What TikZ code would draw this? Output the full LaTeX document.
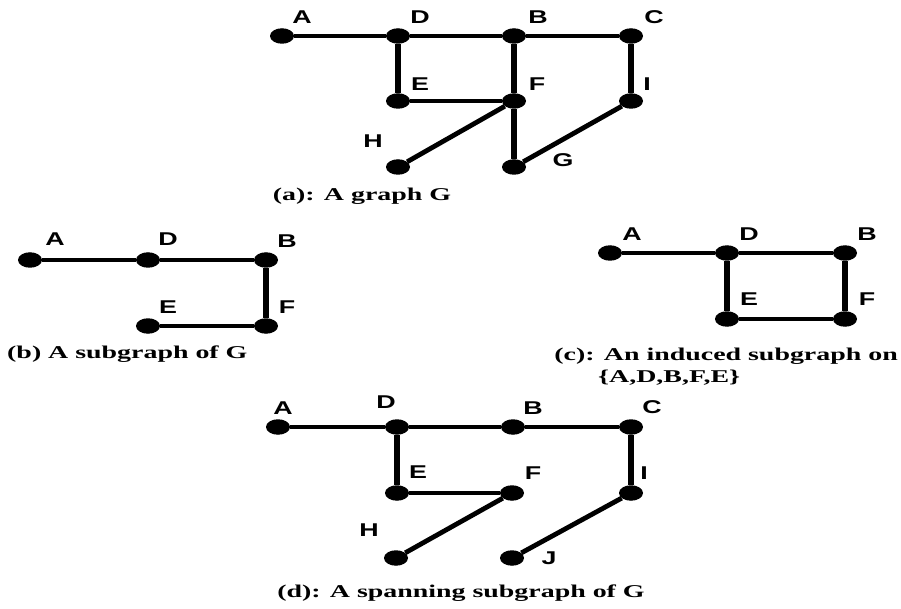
\documentclass[tikz,border=0pt]{standalone}
\usepackage{fontspec}
\usetikzlibrary{shapes.geometric}
\newfontfamily\capfont[FakeStretch=1.55]{Liberation Serif}
\newfontfamily\lblfont[FakeStretch=1.45]{Liberation Sans}
\begin{document}
\begin{tikzpicture}[x=1pt,y=-1pt,
  dot/.style={ellipse, fill=black, minimum width=24pt, minimum height=15.5pt, inner sep=0pt},
  hz/.style={line width=3.6pt},
  vt/.style={line width=6.2pt},
  dg/.style={line width=4.8pt},
  lbl/.style={font=\lblfont\bfseries\fontsize{18.5}{20}\selectfont, inner sep=0pt},
  capt/.style={font=\capfont\bfseries\fontsize{18}{21}\selectfont, inner sep=0pt}]
\useasboundingbox (0,0) rectangle (901,609);
% ---------- (a)
\node[dot] (aA) at (282,36) {};
\node[dot] (aD) at (398,36) {};
\node[dot] (aB) at (514,36) {};
\node[dot] (aC) at (631,36) {};
\node[dot] (aE) at (398,101) {};
\node[dot] (aF) at (514,101) {};
\node[dot] (aI) at (631,101) {};
\node[dot] (aH) at (398,167) {};
\node[dot] (aG) at (514,167) {};
\draw[hz] (aA) -- (aD);
\draw[hz] (aD) -- (aB);
\draw[hz] (aB) -- (aC);
\draw[vt] (aD) -- (aE);
\draw[vt] (aB) -- (aF);
\draw[vt] (aC) -- (aI);
\draw[hz] (aE) -- (aF);
\draw[vt] (aF) -- (aG);
\draw[dg] (aF) -- (aH);
\draw[dg] (aI) -- (aG);
\node[lbl] (laA) at (302,17) {A};
\node[lbl] (laD) at (420,17) {D};
\node[lbl] (laB) at (538,17) {B};
\node[lbl] (laC) at (654,17) {C};
\node[lbl] (laE) at (420,84) {E};
\node[lbl] (laF) at (537,84) {F};
\node[lbl] (laI) at (647,84) {I};
\node[lbl] (laH) at (373,141) {H};
\node[lbl] (laG) at (563,160) {G};
\node[capt] (capa) at (362,196) {(a): A graph G};
% ---------- (b)
\node[dot] (bA) at (30,260) {};
\node[dot] (bD) at (148,260) {};
\node[dot] (bB) at (266,260) {};
\node[dot] (bE) at (148,326) {};
\node[dot] (bF) at (266,326) {};
\draw[hz] (bA) -- (bD);
\draw[hz] (bD) -- (bB);
\draw[vt] (bB) -- (bF);
\draw[hz] (bE) -- (bF);
\node[lbl] (lbA) at (55,239) {A};
\node[lbl] (lbD) at (168,239) {D};
\node[lbl] (lbB) at (287,241) {B};
\node[lbl] (lbE) at (168,307) {E};
\node[lbl] (lbF) at (287,307) {F};
\node[capt, anchor=west] (capb) at (7,354) {(b) A subgraph of G};
% ---------- (c)
\node[dot] (cA) at (610,253) {};
\node[dot] (cD) at (727,253) {};
\node[dot] (cB) at (845,253) {};
\node[dot] (cE) at (727,319) {};
\node[dot] (cF) at (845,319) {};
\draw[hz] (cA) -- (cD);
\draw[hz] (cD) -- (cB);
\draw[vt] (cD) -- (cE);
\draw[vt] (cB) -- (cF);
\draw[hz] (cE) -- (cF);
\node[lbl] (lcA) at (632,234) {A};
\node[lbl] (lcD) at (749,234) {D};
\node[lbl] (lcB) at (867,234) {B};
\node[lbl] (lcE) at (749,299) {E};
\node[lbl] (lcF) at (867,299) {F};
\node[capt, anchor=east] (capc1) at (898,356) {(c): An induced subgraph on};
\node[capt, anchor=west] (capc2) at (598,378) {\{A,D,B,F,E\}};
% ---------- (d)
\node[dot] (dA) at (278,427) {};
\node[dot] (dD) at (397,427) {};
\node[dot] (dB) at (513,427) {};
\node[dot] (dC) at (631,427) {};
\node[dot] (dE) at (397,493) {};
\node[dot] (dF) at (512,493) {};
\node[dot] (dI) at (631,493) {};
\node[dot] (dH) at (396,558) {};
\node[dot] (dJ) at (512,558) {};
\draw[hz] (dA) -- (dD);
\draw[hz] (dD) -- (dB);
\draw[hz] (dB) -- (dC);
\draw[vt] (dD) -- (dE);
\draw[vt] (dC) -- (dI);
\draw[hz] (dE) -- (dF);
\draw[dg] (dF) -- (dH);
\draw[dg] (dI) -- (dJ);
\node[lbl] (ldA) at (283,408) {A};
\node[lbl] (ldD) at (386,402) {D};
\node[lbl] (ldB) at (533,408) {B};
\node[lbl] (ldC) at (652,407) {C};
\node[lbl] (ldE) at (418,472) {E};
\node[lbl] (ldF) at (533,473) {F};
\node[lbl] (ldI) at (644,473) {I};
\node[lbl] (ldH) at (369,530) {H};
\node[lbl] (ldJ) at (549,558) {J};
\node[capt] (capd) at (461,593) {(d): A spanning subgraph of G};
\end{tikzpicture}
\end{document}
